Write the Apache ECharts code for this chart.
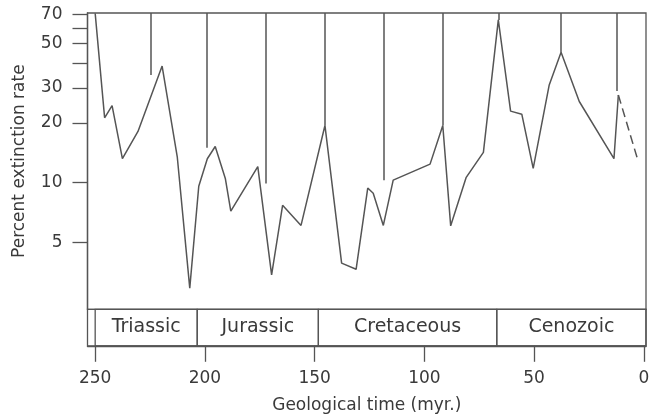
<!DOCTYPE html>
<html>
<head>
<meta charset="utf-8">
<script src="https://cdn.jsdelivr.net/npm/echarts@6/dist/echarts.min.js"></script>
<style>
  html, body { margin: 0; padding: 0; background: #fff; }
  #main { width: 651px; height: 414px; }
</style>
</head>
<body>
<div id="main"></div>
<script>
// values (time in myr before present, rate in %)
var timeMyr = [250, 245.7, 242.3, 237.6, 230.5, 219.5, 212.6, 206.9, 202.8, 198.9,
               195.3, 190.7, 188.2, 175.9, 169.6, 164.6, 156.2, 145.3, 137.7, 131.1,
               125.8, 123.3, 118.7, 114.2, 97.4, 91.6, 88.0, 81.0, 73.1, 66.3,
               60.7, 55.6, 50.4, 43.1, 37.7, 29.4, 13.6, 11.6];
var extinction = [71, 21.2, 24.4, 13.2, 18.1, 38.6, 13.5, 2.95, 9.6, 13.2,
                  15.2, 10.5, 7.2, 12.05, 3.44, 7.7, 6.1, 19.4, 3.94, 3.67,
                  9.4, 8.85, 6.1, 10.3, 12.4, 19.4, 6.07, 10.6, 14.2, 65.8,
                  22.9, 22.1, 11.8, 31, 45.3, 25.6, 13.2, 27.6];

// uncertain last stretch (dashed)
var dashTime = [11.6, 3.0];
var dashValue = [27.6, 13.3];

// vertical lines hanging from the top of the plot
var dropTimes = [224.5, 199.2, 172.3, 145.3, 118.4, 91.6, 66.3, 37.7, 12.2];
var dropValues = [34.8, 15.0, 9.9, 19.4, 10.3, 19.4, 65.8, 45.3, 28.9];

// geological periods
var periodNames = ['Triassic', 'Jurassic', 'Cretaceous', 'Cenozoic'];
var periodStart = [250, 203.5, 148.3, 67];
var periodEnd = [203.5, 148.3, 67, -1];

var yTicks = [5, 10, 20, 30, 40, 50, 60, 70];
var yLabels = [5, 10, 20, 30, 50, 70];
var xTicks = [0, 50, 100, 150, 200, 250];

var yMin = 2.31, yMax = 71.3;
var xMin = -1, xMax = 253.5;

var ink = '#555';
var textCol = '#3a3a3a';
var font = 'DejaVu Sans';

var myChart = echarts.init(document.getElementById('main'));

var mainData = timeMyr.map(function (t, i) { return [t, extinction[i]]; });
var dashData = dashTime.map(function (t, i) { return [t, dashValue[i]]; });
var dropLines = dropTimes.map(function (t, i) {
    return [{ coord: [t, yMax] }, { coord: [t, dropValues[i]] }];
});
var periodData = periodNames.map(function (n, i) {
    return [periodStart[i], periodEnd[i], n];
});

var option = {
    backgroundColor: '#fff',
    animation: false,
    grid: [
        { left: 87.5, right: 5, top: 13, height: 296.3, show: true, containLabel: false,
          outerBoundsMode: 'none',
          borderColor: ink, borderWidth: 1.3, backgroundColor: 'transparent' },
        { left: 87.5, right: 5, top: 309.3, height: 36.5, show: true, containLabel: false,
          outerBoundsMode: 'none',
          borderColor: ink, borderWidth: 1.3, backgroundColor: 'transparent' }
    ],
    xAxis: [
        { type: 'value', gridIndex: 0, min: xMin, max: xMax, inverse: true, show: false },
        { type: 'value', gridIndex: 1, min: xMin, max: xMax, inverse: true, position: 'bottom',
          axisLine: { show: true, onZero: false, lineStyle: { color: ink, width: 1.3 } },
          axisTick: { show: true, length: 16, customValues: xTicks, lineStyle: { color: ink, width: 1.3 } },
          axisLabel: { customValues: xTicks, margin: 24, color: textCol, fontSize: 17, fontFamily: font },
          splitLine: { show: false },
          name: 'Geological time (myr.)', nameLocation: 'middle', nameGap: 51,
          nameTextStyle: { color: textCol, fontSize: 17, fontFamily: font } }
    ],
    yAxis: [
        { type: 'log', logBase: 10, gridIndex: 0, min: yMin, max: yMax, position: 'left',
          axisLine: { show: true, onZero: false, lineStyle: { color: ink, width: 1.3 } },
          axisTick: { show: true, length: 15, customValues: yTicks, lineStyle: { color: ink, width: 1.3 } },
          axisLabel: { customValues: yLabels, margin: 25, color: textCol, fontSize: 17, fontFamily: font },
          splitLine: { show: false },
          minorTick: { show: false },
          name: 'Percent extinction rate', nameLocation: 'middle', nameGap: 59,
          nameTextStyle: { color: textCol, fontSize: 17, fontFamily: font } },
        { type: 'value', gridIndex: 1, min: 0, max: 1, show: false }
    ],
    series: [
        {
            type: 'line',
            data: mainData,
            xAxisIndex: 0, yAxisIndex: 0,
            symbol: 'none',
            lineStyle: { color: ink, width: 1.5 },
            markLine: {
                silent: true,
                symbol: 'none',
                label: { show: false },
                lineStyle: { color: ink, width: 1.5, type: 'solid' },
                data: dropLines
            }
        },
        {
            type: 'line',
            data: dashData,
            xAxisIndex: 0, yAxisIndex: 0,
            symbol: 'none',
            lineStyle: { color: ink, width: 1.5, type: [9, 5] }
        },
        {
            type: 'custom',
            xAxisIndex: 1, yAxisIndex: 1,
            data: periodData,
            renderItem: function (params, api) {
                var p0 = api.coord([api.value(0), 0]);
                var p1 = api.coord([api.value(1), 1]);
                var x = Math.min(p0[0], p1[0]);
                var y = Math.min(p0[1], p1[1]);
                return {
                    type: 'rect',
                    shape: { x: x, y: y, width: Math.abs(p1[0] - p0[0]), height: Math.abs(p1[1] - p0[1]) },
                    style: { fill: 'transparent', stroke: ink, lineWidth: 1.3 },
                    textContent: {
                        type: 'text',
                        style: { text: api.value(2), fill: textCol, fontSize: 19, fontFamily: font }
                    },
                    textConfig: { position: 'inside' }
                };
            }
        }
    ]
};

myChart.setOption(option);
</script>
</body>
</html>
